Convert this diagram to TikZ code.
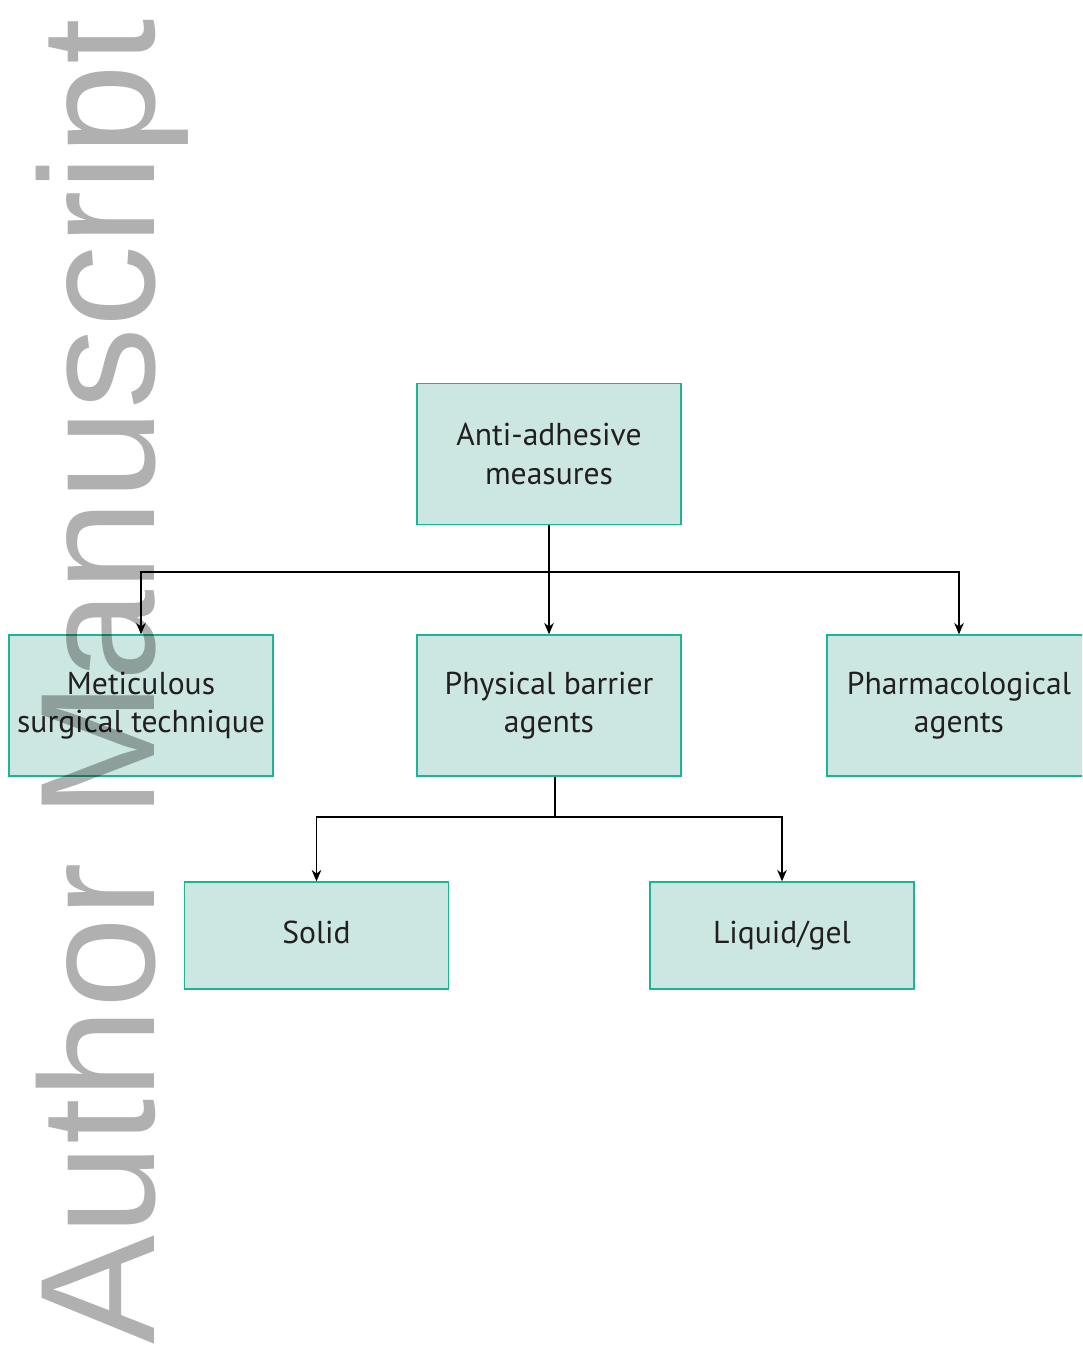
\documentclass[tikz,border=0pt]{standalone}
\usepackage{fontspec}
\setmainfont{PT Sans}
\setsansfont{Liberation Sans}
\usetikzlibrary{arrows.meta, positioning, calc}
\definecolor{boxfill}{RGB}{204, 231, 225}
\definecolor{boxline}{RGB}{30, 178, 150}
\definecolor{inkdark}{RGB}{35, 31, 32}
\definecolor{wmgray}{RGB}{176, 176, 176}
\tikzset{
  catbox/.style={draw=boxline, fill=boxfill, line width=0.8pt, minimum width=5.28cm, inner sep=0pt, align=center, text=inkdark, font=\fontsize{18}{22}\selectfont},
  boxhi/.style={catbox, minimum height=2.82cm},
  boxlo/.style={catbox, minimum height=2.14cm, text height=13pt, text depth=4pt},
  link/.style={-{Stealth[length=6.5pt, width=5.5pt]}, line width=0.7pt},
}

\begin{document}
\begin{tikzpicture}[x=0.02cm, y=-0.02cm]
  \useasboundingbox (0, 0) rectangle (1082, 1352);
  \clip (0, 0) rectangle (1082, 1352);
  % boxes
  \node[boxhi] (anti) at (549, 454) {Anti-adhesive\\measures};
  \node[boxhi] (meti) at (141, 705.5) {Meticulous\\surgical technique};
  \node[boxhi] (phys) at (549, 705.5) {Physical barrier\\agents};
  \node[boxhi] (phar) at (959, 705.5) {Pharmacological\\agents};
  \node[boxlo] (solid) at (316.5, 935.5) {Solid};
  \node[boxlo] (liquid) at (782, 935.5) {Liquid/gel};
  % connectors
  \coordinate (topbus) at (anti.south |- 0, 572);
  \coordinate (lowbus) at (555, 817);
  \draw[line width=0.7pt] (anti.south) -- (topbus);
  \draw[link] (topbus) -- (phys.north);
  \draw[link] (topbus) -| (meti.north);
  \draw[link] (topbus) -| (phar.north);
  \draw[line width=0.7pt] (phys.south -| lowbus) -- (lowbus);
  \draw[link] (lowbus) -| (solid.north);
  \draw[link] (lowbus) -| (liquid.north);
  % watermark
  \begin{scope}[blend mode=multiply]
    \node[font=\sffamily\fontsize{93}{93}\selectfont, text=wmgray, rotate=90, anchor=base west, inner sep=0pt] (wmark) at (154, 1345) {Author Manuscript};
  \end{scope}
\end{tikzpicture}
\end{document}
